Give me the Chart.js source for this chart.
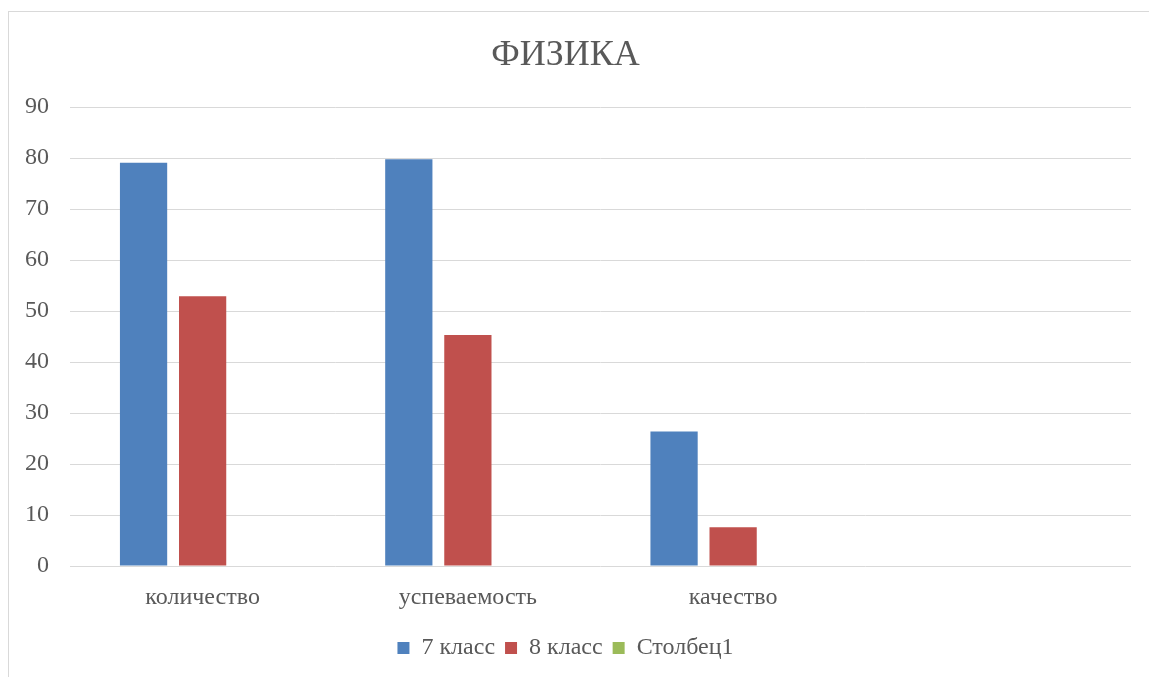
<!DOCTYPE html>
<html>
<head>
<meta charset="utf-8">
<script src="https://cdn.jsdelivr.net/npm/chart.js@4.4.0/dist/chart.umd.min.js"></script>
<style>
  body { margin: 0; background: #fff; overflow: hidden; }
  #frame { position: absolute; left: 8px; top: 11px; width: 1200px; height: 700px; border: 1px solid #d9d9d9; }
  #wrap { position: absolute; left: 0; top: 0; width: 1149px; height: 677px; }
</style>
</head>
<body>
<div id="frame"></div>
<div id="wrap"><canvas id="chart"></canvas></div>
<script>
// data
let categories = ['количество', 'успеваемость', 'качество', ''];
let class7 = [79.1, 79.8, 26.4, null];
let class8 = [52.9, 45.3, 7.6, null];
let column1 = [null, null, null, null];
let seriesNames = ['7 класс', '8 класс', 'Столбец1'];
let yTicks = [0, 10, 20, 30, 40, 50, 60, 70, 80, 90];

let colors = ['#4F81BD', '#C0504D', '#9BBB59'];
let textColor = '#595959';
let fontName = '"Liberation Serif", "Times New Roman", serif';

Chart.defaults.font.family = fontName;
Chart.defaults.color = textColor;

let ctx = document.getElementById('chart');
let chart = new Chart(ctx, {
  type: 'bar',
  data: {
    labels: categories,
    datasets: [class7, class8, column1].map(function(vals, i) {
      return {
        label: seriesNames[i],
        data: vals,
        backgroundColor: colors[i],
        borderWidth: 0,
        categoryPercentage: 0.668,
        barPercentage: 0.8
      };
    })
  },
  options: {
    responsive: true,
    maintainAspectRatio: false,
    animation: false,
    layout: { padding: { left: 0, right: 18, top: 0, bottom: 7 } },
    plugins: {
      title: {
        display: true,
        text: 'ФИЗИКА',
        font: { size: 36, weight: 'normal' },
        color: textColor,
        padding: { top: 34, bottom: 30 }
      },
      legend: {
        position: 'bottom',
        labels: {
          boxWidth: 12,
          boxHeight: 12,
          padding: 10,
          font: { size: 24 },
          color: textColor
        }
      },
      tooltip: { enabled: false }
    },
    scales: {
      x: {
        grid: { display: false },
        border: { display: false },
        ticks: { font: { size: 24 }, color: textColor, padding: 9.5 },
        afterFit: function(scale) { scale.height = 60; }
      },
      y: {
        min: 0,
        max: 90,
        afterBuildTicks: function(scale) { scale.ticks = yTicks.map(function(v) { return { value: v }; }); },
        grid: { color: '#d9d9d9', lineWidth: 1, drawTicks: false },
        border: { display: false },
        ticks: { font: { size: 24 }, color: textColor, padding: 21 },
        afterFit: function(scale) { scale.width = 70; }
      }
    }
  }
});
</script>
</body>
</html>
